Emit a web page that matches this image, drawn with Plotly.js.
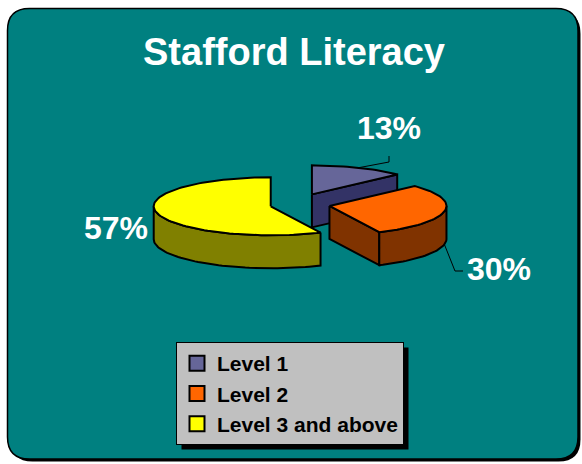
<!DOCTYPE html>
<html>
<head>
<meta charset="utf-8">
<script src="https://cdn.plot.ly/plotly-3.0.1.min.js"></script>
<style>html,body{margin:0;padding:0;background:#fff;}#chart{width:582px;height:464px;}</style>
</head>
<body>
<div id="chart"></div>
<script>
// ---- data ----
const categories = ['Level 1', 'Level 2', 'Level 3 and above'];
const values = [13, 30, 57];
const labelTexts = ['13%', '30%', '57%'];

// ---- styling ----
const topColors  = ['#666699', '#FF6600', '#FFFF00'];
const sideColors = ['#333366', '#803300', '#808000'];

// pie geometry (pixel space of the hidden axes)
const C = {x: 300, y: 204};
const RX = 117, RY = 29, H = 33, EXPLODE = 30, KE = 0.35;
const rad = a => a * Math.PI / 180;

const total = values.reduce((s, v) => s + v, 0);
let cum = 0;
const slices = values.map((v, i) => {
  const a0 = cum / total * 360; cum += v;
  const a1 = cum / total * 360;
  const m = (a0 + a1) / 2;
  const cx = C.x + EXPLODE * Math.sin(rad(m));
  const cy = C.y - EXPLODE * Math.cos(rad(m)) * KE;
  return {i, a0, a1, m, cx, cy};
});

function pt(s, a, dy) {
  return [s.cx + RX * Math.sin(rad(a)), s.cy - RY * Math.cos(rad(a)) + (dy || 0)];
}
function arc(s, a0, a1, dy) {
  const n = Math.max(2, Math.ceil(Math.abs(a1 - a0) / 2));
  const out = [];
  for (let k = 0; k <= n; k++) out.push(pt(s, a0 + (a1 - a0) * k / n, dy));
  return out;
}
function poly(points, fill) {
  return {
    type: 'scatter', mode: 'lines', fill: 'toself', fillcolor: fill,
    x: points.map(p => p[0]), y: points.map(p => p[1]),
    line: {color: '#000', width: 2}, hoverinfo: 'skip', showlegend: false
  };
}

const traces = [];
const order = slices.slice().sort((a, b) => (-Math.cos(rad(a.m))) - (-Math.cos(rad(b.m))));
order.forEach(s => {
  const c = [s.cx, s.cy], cb = [s.cx, s.cy + H];
  [[s.a0, s.a0 - 90], [s.a1, s.a1 + 90]].forEach(([a, n]) => {
    if (-Math.cos(rad(n)) > 0.05) {
      const p = pt(s, a), pb = pt(s, a, H);
      traces.push(poly([c, p, pb, cb, c], sideColors[s.i]));
    }
  });
  const w0 = Math.max(s.a0, 90), w1 = Math.min(s.a1, 270);
  if (w1 > w0) {
    const topArc = arc(s, w0, w1, 0);
    const botArc = arc(s, w1, w0, H);
    traces.push(poly(topArc.concat(botArc, [topArc[0]]), sideColors[s.i]));
  }
  traces.push(poly([c].concat(arc(s, s.a0, s.a1, 0), [c]), topColors[s.i]));
});

// leader lines from slice geometry to labels
const labelPos = [[389, 128], [499, 269], [116, 228]];
const leader13 = pt(slices[0], slices[0].m, 0);
const leader30 = pt(slices[1], slices[1].m, H);
traces.push({type: 'scatter', mode: 'lines', x: [leader13[0], 389, 389], y: [leader13[1], 162, 156],
  line: {color: '#000', width: 1}, hoverinfo: 'skip', showlegend: false});
traces.push({type: 'scatter', mode: 'lines', x: [leader30[0], 455, 463], y: [leader30[1], 271, 271],
  line: {color: '#000', width: 1}, hoverinfo: 'skip', showlegend: false});

// legend-only entries
categories.forEach((name, i) => {
  traces.push({type: 'scatter', mode: 'markers', x: [null], y: [null], name: name,
    legendgroup: 'g' + i,
    marker: {symbol: 'square', size: 15, color: topColors[i], line: {color: '#000', width: 2}},
    hoverinfo: 'skip'});
});

function rrect(x0, y0, x1, y1, r) {
  return `M ${x0 + r},${y0} H ${x1 - r} Q ${x1},${y0} ${x1},${y0 + r} V ${y1 - r} Q ${x1},${y1} ${x1 - r},${y1} ` +
         `H ${x0 + r} Q ${x0},${y1} ${x0},${y1 - r} V ${y0 + r} Q ${x0},${y0} ${x0 + r},${y0} Z`;
}

const layout = {
  width: 582, height: 464,
  margin: {l: 0, r: 0, t: 0, b: 0},
  paper_bgcolor: '#ffffff', plot_bgcolor: 'rgba(0,0,0,0)',
  font: {family: 'Liberation Sans, Arial, sans-serif'},
  title: {text: '<b>Stafford Literacy</b>', font: {size: 38, color: '#ffffff', family: 'Liberation Sans, Arial, sans-serif'},
          x: 294 / 582, xanchor: 'center', y: 1 - 52 / 464, yanchor: 'middle', yref: 'container'},
  xaxis: {range: [0, 582], visible: false, fixedrange: true},
  yaxis: {range: [464, 0], visible: false, fixedrange: true},
  showlegend: true,
  legend: {x: 176 / 582, y: 1 - 342 / 464, xanchor: 'left', yanchor: 'top',
           bgcolor: '#C0C0C0', bordercolor: '#000', borderwidth: 1,
           font: {size: 21, color: '#000', weight: 'bold', family: 'Liberation Sans, Arial, sans-serif'},
           tracegroupgap: 0, traceorder: 'normal'},
  shapes: [
    {type: 'path', xref: 'x', yref: 'y', path: rrect(10.5, 11.5, 580.5, 461.5, 22), fillcolor: '#000', line: {width: 0}, layer: 'below'},
    {type: 'path', xref: 'x', yref: 'y', path: rrect(7.5, 8.5, 578, 459, 22), fillcolor: '#008080', line: {color: '#000', width: 1.5}, layer: 'below'},
    {type: 'rect', xref: 'x', yref: 'y', x0: 181, y0: 347, x1: 422, y1: 446, fillcolor: '#000', line: {width: 0}, layer: 'above'}
  ],
  annotations: labelTexts.map((t, i) => ({
    xref: 'x', yref: 'y', x: labelPos[i][0], y: labelPos[i][1], text: '<b>' + t + '</b>',
    showarrow: false, xanchor: 'center', yanchor: 'middle',
    font: {size: 32, color: '#ffffff', family: 'Liberation Sans, Arial, sans-serif'}
  }))
};

Plotly.newPlot('chart', traces, layout, {displayModeBar: false, staticPlot: true}).then(gd => {
  // fit the legend shadow to the rendered legend box
  const bg = gd.querySelector('.legend .bg');
  if (bg) {
    const r = bg.getBoundingClientRect();
    const base = gd.getBoundingClientRect();
    const x0 = r.left - base.left, y0 = r.top - base.top;
    const shapes = gd.layout.shapes.slice();
    shapes[2] = Object.assign({}, shapes[2], {x0: x0 + 5, y0: y0 + 5, x1: x0 + r.width + 5, y1: y0 + r.height + 5});
    Plotly.relayout(gd, {shapes: shapes});
  }
});
</script>
</body>
</html>
